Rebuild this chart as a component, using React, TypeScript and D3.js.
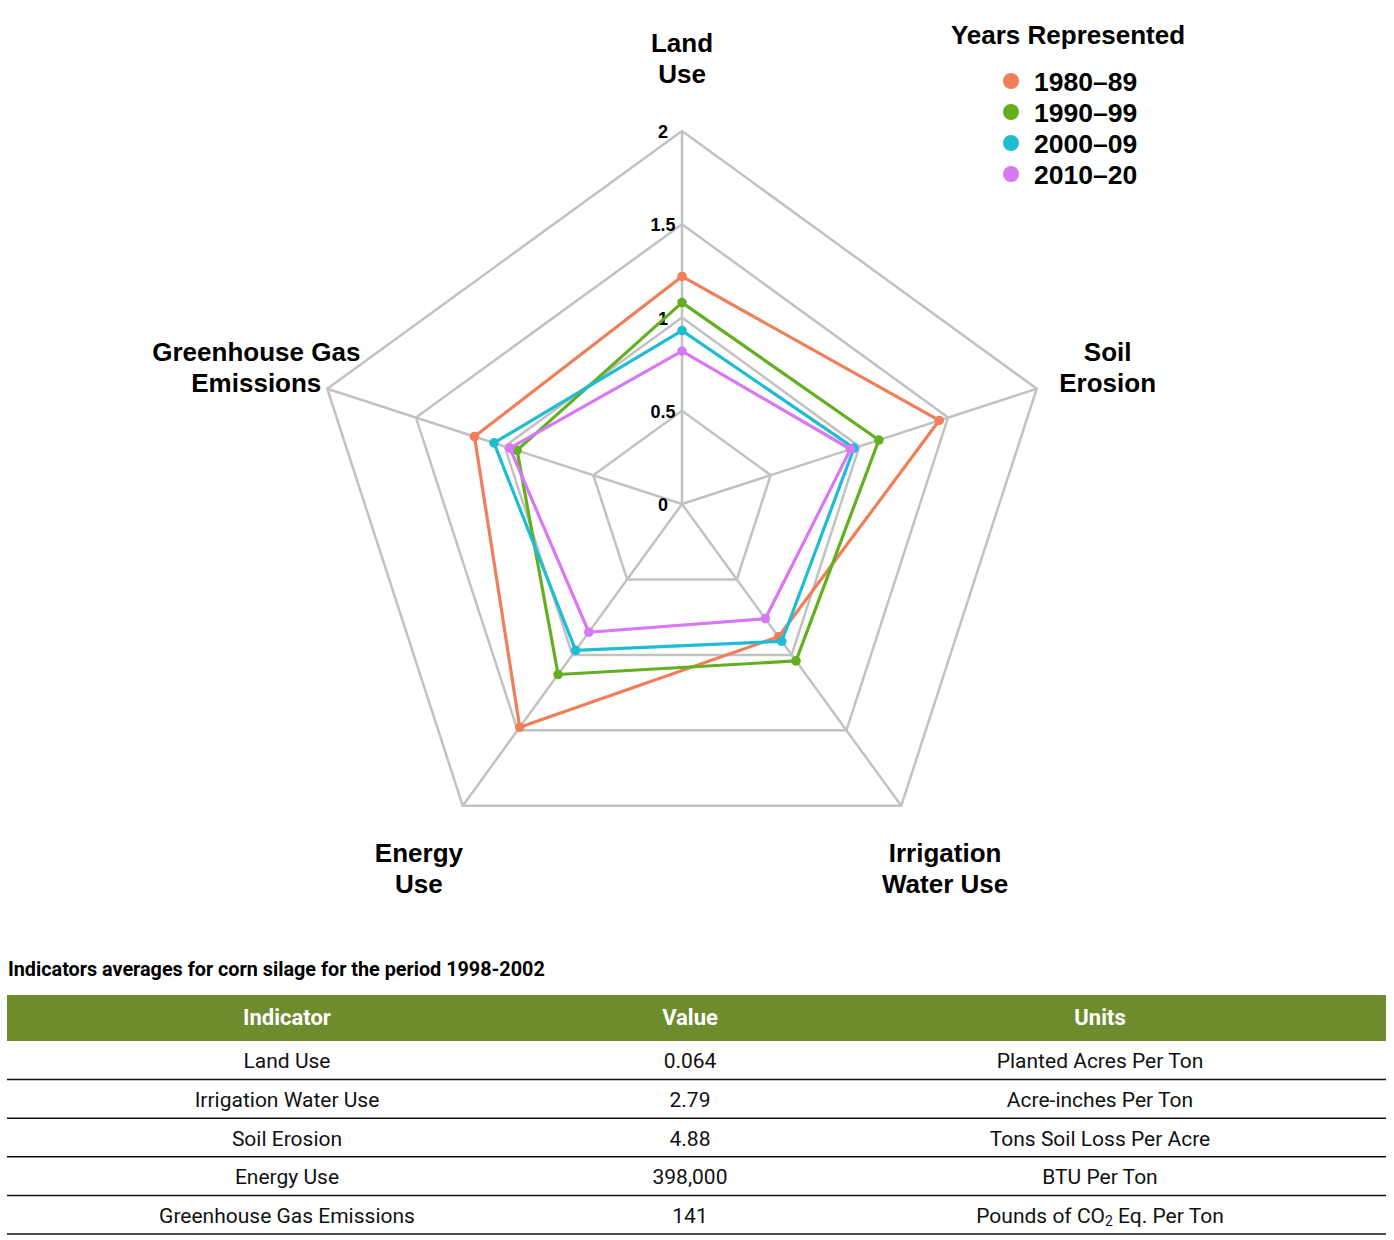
import React from 'react';
import * as d3 from 'd3';

// radar axes, clockwise from the top
const axisNames = ['Land Use', 'Soil Erosion', 'Irrigation Water Use', 'Energy Use', 'Greenhouse Gas Emissions'];
const axisLabelLines = [['Land', 'Use'], ['Soil', 'Erosion'], ['Irrigation', 'Water Use'], ['Energy', 'Use'], ['Greenhouse Gas', 'Emissions']];
const ringTicks = [0, 0.5, 1, 1.5, 2];

const years = ['1980–89', '1990–99', '2000–09', '2010–20'];
const v1980s = [1.22, 1.45, 0.88, 1.48, 1.17];
const v1990s = [1.08, 1.11, 1.04, 1.13, 0.93];
const v2000s = [0.93, 0.97, 0.91, 0.97, 1.06];
const v2010s = [0.82, 0.95, 0.76, 0.85, 0.97];
const seriesValues = [v1980s, v1990s, v2000s, v2010s];
const colors = ['#f07e59', '#62b022', '#1fbcd3', '#d878f4'];

// table under the chart
const tableTitle = 'Indicators averages for corn silage for the period 1998-2002';
const tableHeaders = ['Indicator', 'Value', 'Units'];
const indicatorNames = ['Land Use', 'Irrigation Water Use', 'Soil Erosion', 'Energy Use', 'Greenhouse Gas Emissions'];
const indicatorValues = ['0.064', '2.79', '4.88', '398,000', '141'];
const indicatorUnits = ['Planted Acres Per Ton', 'Acre-inches Per Ton', 'Tons Soil Loss Per Acre', 'BTU Per Ton', 'Pounds of CO₂ Eq. Per Ton'];

const W = 1394;
const H = 1240;
const cx = 682;
const cy = 504;
const R = 373;

const App = () => {
  const r = d3.scaleLinear().domain([0, 2]).range([0, R]);
  const angle = d3.scaleLinear().domain([0, axisNames.length]).range([0, 2 * Math.PI]);

  const pt = (i: number, v: number): [number, number] => {
    const a = angle(i) - Math.PI / 2;
    return [Math.cos(a) * r(v), Math.sin(a) * r(v)];
  };

  const radial = d3
    .lineRadial<number>()
    .angle((_, i) => angle(i))
    .radius((d) => r(d))
    .curve(d3.curveLinearClosed);

  const gridFont = 'Liberation Sans, Arial, Helvetica, sans-serif';
  const tableFont = 'Roboto, sans-serif';

  // table geometry
  const colX = d3.scaleOrdinal<number>().domain(tableHeaders).range([287, 690, 1100]);
  const rowY = d3.scaleBand<number>().domain(d3.range(indicatorNames.length)).range([1041, 1234]);

  const renderUnit = (u: string) => {
    if (!u.includes('₂')) return u;
    const [a, b] = u.split('₂');
    return (
      <>
        {a}
        <tspan fontSize="14px" dy="5">2</tspan>
        <tspan dy="-5">{b}</tspan>
      </>
    );
  };

  return (
    <div style={{ position: 'absolute', left: 0, top: 0 }}>
      <svg width={W} height={H} style={{ display: 'block', background: '#fff' }}>
        <g transform={`translate(${cx}, ${cy})`}>
          {/* rings */}
          {ringTicks.slice(1).map((t) => (
            <path
              key={t}
              d={radial(axisNames.map(() => t)) || ''}
              fill="none"
              stroke="#c2c2c2"
              strokeWidth={2.5}
            />
          ))}
          {/* spokes */}
          {axisNames.map((name, i) => {
            const [x, y] = pt(i, 2);
            return <line key={name} x1={0} y1={0} x2={x} y2={y} stroke="#c2c2c2" strokeWidth={2.5} />;
          })}
          {/* ring values along the top spoke */}
          {ringTicks.map((t) => (
            <text
              key={t}
              x={-19}
              y={-r(t) + 1}
              textAnchor="middle"
              dominantBaseline="central"
              fontSize="18px"
              fontWeight="bold"
              fontFamily={gridFont}
              fill="#000"
            >
              {t}
            </text>
          ))}
          {/* series */}
          {seriesValues.map((vals, s) => (
            <g key={years[s]}>
              <path d={radial(vals) || ''} fill="none" stroke={colors[s]} strokeWidth={3.2} strokeLinejoin="round" />
              {vals.map((v, i) => {
                const [x, y] = pt(i, v);
                return <circle key={i} cx={x} cy={y} r={4.8} fill={colors[s]} />;
              })}
            </g>
          ))}
          {/* axis labels */}
          {axisLabelLines.map((lines, i) => {
            const [x, y] = pt(i, 2.4);
            return (
              <text
                key={i}
                textAnchor="middle"
                fontSize="26px"
                fontWeight="bold"
                fontFamily={gridFont}
                fill="#000"
              >
                {lines.map((ln, k) => (
                  <tspan key={k} x={x} y={y + 2 + (k - (lines.length - 1) / 2) * 31} dominantBaseline="central">
                    {ln}
                  </tspan>
                ))}
              </text>
            );
          })}
        </g>

        {/* legend */}
        <g fontFamily={gridFont} fontWeight="bold" fill="#000">
          <text x={1068} y={35} textAnchor="middle" dominantBaseline="central" fontSize="26px">
            Years Represented
          </text>
          {years.map((yr, i) => (
            <g key={yr} transform={`translate(1011, ${81 + i * 31})`}>
              <circle r={8} fill={colors[i]} />
              <text x={23} y={1} dominantBaseline="central" fontSize="26.5px">
                {yr}
              </text>
            </g>
          ))}
        </g>

        {/* table */}
        <g fontFamily={tableFont}>
          <text x={8} y={969} dominantBaseline="central" fontSize="19.8px" fontWeight="bold" fill="#000">
            {tableTitle}
          </text>
          <rect x={7} y={995} width={1379} height={46} fill="#6e8b2e" />
          {tableHeaders.map((h) => (
            <text
              key={h}
              x={colX(h)}
              y={1017}
              textAnchor="middle"
              dominantBaseline="central"
              fontSize="22px"
              fontWeight="bold"
              fill="#fff"
            >
              {h}
            </text>
          ))}
          {indicatorNames.map((name, i) => {
            const y0 = rowY(i) || 0;
            const yc = y0 + rowY.bandwidth() / 2 + 1;
            return (
              <g key={name} fontSize="21px" fill="#111">
                <text x={colX('Indicator')} y={yc} textAnchor="middle" dominantBaseline="central">
                  {name}
                </text>
                <text x={colX('Value')} y={yc} textAnchor="middle" dominantBaseline="central">
                  {indicatorValues[i]}
                </text>
                <text x={colX('Units')} y={yc} textAnchor="middle" dominantBaseline="central">
                  {renderUnit(indicatorUnits[i])}
                </text>
                <line x1={7} x2={1386} y1={y0 + rowY.bandwidth()} y2={y0 + rowY.bandwidth()} stroke="#111" strokeWidth={1.5} />
              </g>
            );
          })}
        </g>
      </svg>
    </div>
  );
};

export default App;
